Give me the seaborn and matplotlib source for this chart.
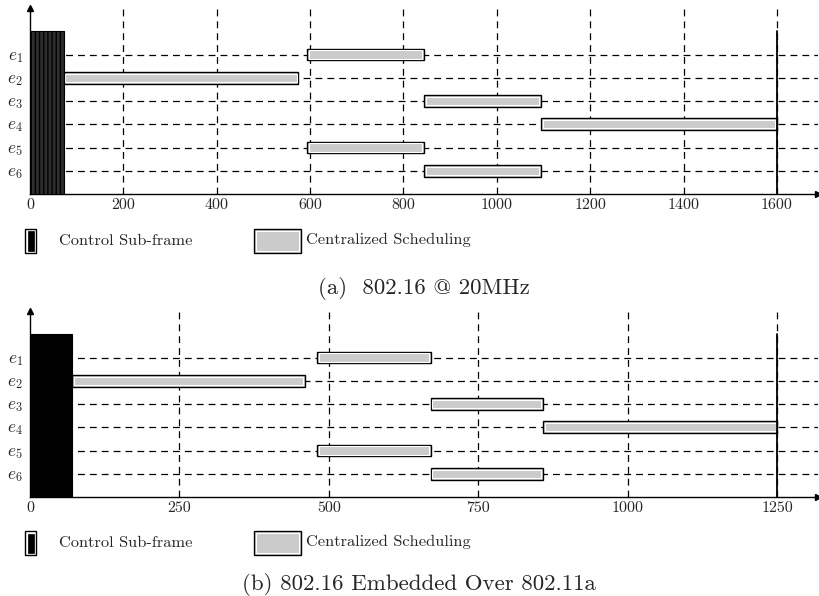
import matplotlib
matplotlib.use("Agg")
import matplotlib.pyplot as plt
from matplotlib.patches import Rectangle
import seaborn as sns

# ---------------- data ----------------
entities = ["e_1", "e_2", "e_3", "e_4", "e_5", "e_6"]

# (a) 802.16 @ 20MHz
a_control_end = 72
a_start = [593, 72, 844, 1095, 593, 844]
a_end = [844, 575, 1095, 1600, 844, 1095]
a_ticks = [0, 200, 400, 600, 800, 1000, 1200, 1400, 1600]
a_frame_end = 1600
a_xmax = 1688

# (b) 802.16 Embedded Over 802.11a
b_control_end = 70
b_start = [480, 70, 670, 858, 480, 670]
b_end = [670, 460, 858, 1250, 670, 858]
b_ticks = [0, 250, 500, 750, 1000, 1250]
b_frame_end = 1250
b_xmax = 1318

captions = ["(a)  802.16 @ 20MHz", "(b) 802.16 Embedded Over 802.11a"]
legend_labels = ["Control Sub-frame", "Centralized Scheduling"]

# ---------------- style ----------------
sns.set_theme(style="white")
plt.rcParams["font.family"] = ["cmr10", "DejaVu Serif"]
plt.rcParams["mathtext.fontset"] = "cm"
plt.rcParams["axes.formatter.use_mathtext"] = True

W, H = 819, 596
fig = plt.figure(figsize=(W / 100, H / 100), dpi=100)

GRAY = "#cbcbcb"


def rect(l, t, r, b):
    return [l / W, 1 - b / H, (r - l) / W, (b - t) / H]


def draw_panel(box, control_end, starts, ends, ticks, frame_end, xmax, hatched):
    ax = fig.add_axes(rect(*box))
    n = len(entities)
    ys = [n - i for i in range(n)]  # e1 at top
    ax.set_xlim(0, xmax)
    ax.set_ylim(0, n + 2)
    ppu_x = (box[2] - box[0]) / xmax
    ppu_y = (box[3] - box[1]) / (n + 2)

    # grid lines
    for y in ys:
        ax.plot([0, xmax], [y, y], color="black", lw=0.9, ls=(0, (5.5, 4)), zorder=1)
    for t in ticks[1:]:
        ax.plot([t, t], [0, n + 2], color="black", lw=0.9, ls=(0, (5.5, 4)), zorder=1)
    # end of frame
    ax.plot([frame_end, frame_end], [0, n + 1], color="black", lw=1.3, zorder=4)

    # control sub-frame
    if hatched:
        ax.bar(0, n + 1, width=control_end, align="edge", color="#2e2e2e",
               edgecolor="black", hatch="||||", lw=0.8, zorder=5)
    else:
        ax.bar(0, n + 1, width=control_end, align="edge", color="black",
               edgecolor="black", lw=0.8, zorder=5)

    widths = [e - s for s, e in zip(starts, ends)]
    h = 0.5
    ax.barh(ys, widths, left=starts, height=h, color=GRAY, edgecolor="black",
            lw=1.0, zorder=3)
    dx = 1.7 / ppu_x
    dy = 1.7 / ppu_y
    ax.barh(ys, [w - 2 * dx for w in widths], left=[s + dx for s in starts],
            height=h - 2 * dy, color="none", edgecolor="white", lw=0.8, zorder=3)

    ax.set_xticks(ticks)
    ax.set_xticklabels([str(t) for t in ticks], fontsize=11.5)
    ax.set_yticks(ys)
    ax.set_yticklabels([f"${e}$" for e in entities], fontsize=12.5)
    ax.tick_params(axis="x", length=0, pad=3)
    ax.tick_params(axis="y", length=0, pad=5)
    for s in ["top", "right"]:
        ax.spines[s].set_visible(False)
    for s in ["left", "bottom"]:
        ax.spines[s].set_color("black")
        ax.spines[s].set_linewidth(1.0)
    ax.plot(1, 0, ">", color="black", ms=4.5, transform=ax.transAxes, clip_on=False)
    ax.plot(0, 1, "^", color="black", ms=4.5, transform=ax.transAxes, clip_on=False)
    ax.patch.set_alpha(0)
    return ax


def legend_row(top, center_y):
    bh = 24
    # black control box
    fig.patches.append(Rectangle((25 / W, 1 - (top + bh) / H), 11 / W, bh / H,
                                 transform=fig.transFigure, facecolor="white",
                                 edgecolor="black", lw=1.0))
    fig.patches.append(Rectangle((27.5 / W, 1 - (top + bh - 2.5) / H), 6 / W, (bh - 5) / H,
                                 transform=fig.transFigure, facecolor="black",
                                 edgecolor="black", lw=0.5))
    fig.text(59 / W, 1 - center_y / H, legend_labels[0], fontsize=11.8,
             va="center", ha="left")
    # gray box
    fig.patches.append(Rectangle((254 / W, 1 - (top + bh) / H), 47 / W, bh / H,
                                 transform=fig.transFigure, facecolor=GRAY,
                                 edgecolor="black", lw=1.0))
    fig.patches.append(Rectangle((256 / W, 1 - (top + bh - 2) / H), 43 / W, (bh - 4) / H,
                                 transform=fig.transFigure, facecolor="none",
                                 edgecolor="white", lw=0.8))
    fig.text(306 / W, 1 - (center_y - 1.5) / H, legend_labels[1], fontsize=11.8,
             va="center", ha="left")


draw_panel((30, 8, 818, 194), a_control_end, a_start, a_end, a_ticks,
           a_frame_end, a_xmax, True)
draw_panel((30, 311, 818, 497), b_control_end, b_start, b_end, b_ticks,
           b_frame_end, b_xmax, False)

legend_row(229, 241)
legend_row(531, 543)

fig.text(424 / W, 1 - 288 / H, captions[0], fontsize=16.5, ha="center", va="center")
fig.text(419 / W, 1 - 584 / H, captions[1], fontsize=16.5, ha="center", va="center")

fig.savefig("out.png", dpi=100)
